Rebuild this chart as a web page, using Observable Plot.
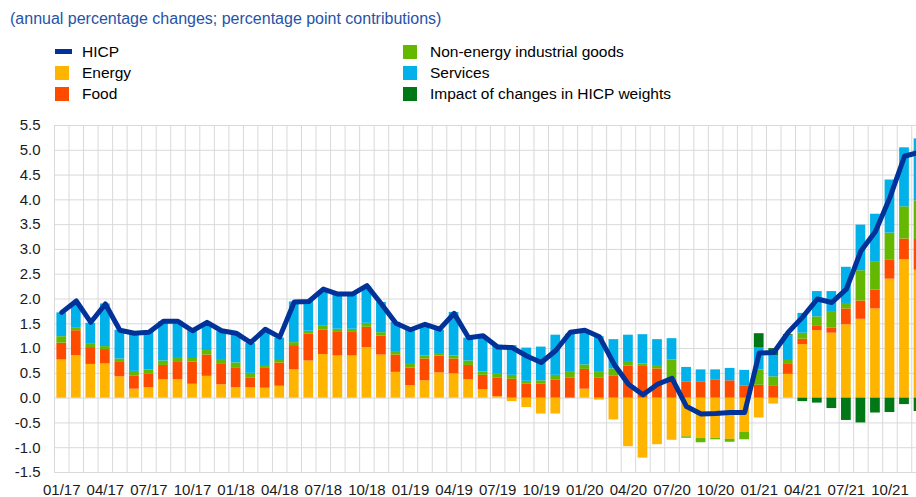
<!DOCTYPE html>
<html>
<head>
<meta charset="utf-8">
<script src="https://cdn.jsdelivr.net/npm/d3@7"></script>
<script src="https://cdn.jsdelivr.net/npm/@observablehq/plot@0.6"></script>
<style>
html, body { margin: 0; padding: 0; background: #fff; overflow: hidden; }
body { width: 916px; height: 497px; position: relative; font-family: "Liberation Sans", Arial, sans-serif; }
#subtitle { position: absolute; left: 10px; top: 9px; font-size: 16px; line-height: 19px; color: #2553a8; white-space: nowrap; }
.lab { position: absolute; font-size: 15.5px; line-height: 18px; color: #000; white-space: nowrap; }
.sw { position: absolute; }
#chart { position: absolute; left: 0; top: 105px; }
</style>
</head>
<body>
<div id="subtitle">(annual percentage changes; percentage point contributions)</div>
<div id="legend"></div>
<div id="chart"></div>
<script>
// ---- categories / tick labels ----
const months = [
  "01/17","02/17","03/17","04/17","05/17","06/17","07/17","08/17","09/17","10/17","11/17","12/17",
  "01/18","02/18","03/18","04/18","05/18","06/18","07/18","08/18","09/18","10/18","11/18","12/18",
  "01/19","02/19","03/19","04/19","05/19","06/19","07/19","08/19","09/19","10/19","11/19","12/19",
  "01/20","02/20","03/20","04/20","05/20","06/20","07/20","08/20","09/20","10/20","11/20","12/20",
  "01/21","02/21","03/21","04/21","05/21","06/21","07/21","08/21","09/21","10/21","11/21","12/21"
];
const xTickLabels = ["01/17","04/17","07/17","10/17","01/18","04/18","07/18","10/18","01/19","04/19","07/19","10/19",
  "01/20","04/20","07/20","10/20","01/21","04/21","07/21","10/21"];
const yTicks = [-1.5, -1.0, -0.5, 0.0, 0.5, 1.0, 1.5, 2.0, 2.5, 3.0, 3.5, 4.0, 4.5, 5.0, 5.5];

// ---- series values (percentage point contributions) ----
const energy = [
  0.77, 0.86, 0.68, 0.69, 0.43, 0.18, 0.21, 0.37, 0.37, 0.28, 0.44, 0.27,
  0.21, 0.21, 0.20, 0.24, 0.57, 0.75, 0.88, 0.85, 0.85, 1.02, 0.87, 0.52,
  0.25, 0.35, 0.51, 0.49, 0.37, 0.17, 0.03, -0.07, -0.19, -0.32, -0.32, 0.00,
  0.18, -0.04, -0.44, -0.98, -1.21, -0.94, -0.85, -0.78, -0.81, -0.81, -0.83, -0.69,
  -0.40, -0.12, 0.48, 1.08, 1.36, 1.31, 1.48, 1.59, 1.80, 2.40, 2.79, 2.58
];
const food = [
  0.34, 0.50, 0.34, 0.29, 0.29, 0.27, 0.27, 0.29, 0.35, 0.45, 0.43, 0.41,
  0.39, 0.19, 0.40, 0.47, 0.49, 0.54, 0.49, 0.49, 0.49, 0.41, 0.38, 0.35,
  0.36, 0.44, 0.34, 0.30, 0.29, 0.29, 0.37, 0.38, 0.28, 0.28, 0.36, 0.40,
  0.40, 0.40, 0.45, 0.65, 0.64, 0.59, 0.38, 0.32, 0.33, 0.37, 0.35, 0.24,
  0.26, 0.25, 0.20, 0.11, 0.10, 0.10, 0.32, 0.37, 0.38, 0.38, 0.42, 0.62
];
const neig = [
  0.13, 0.05, 0.08, 0.06, 0.07, 0.09, 0.09, 0.09, 0.10, 0.07, 0.09, 0.10,
  0.11, 0.10, 0.04, 0.05, 0.06, 0.06, 0.08, 0.05, 0.05, 0.08, 0.07, 0.07,
  0.07, 0.06, 0.05, 0.06, 0.09, 0.07, 0.08, 0.08, 0.06, 0.07, 0.10, 0.12,
  0.09, 0.12, 0.14, 0.09, 0.05, 0.05, 0.39, -0.03, -0.09, -0.03, -0.06, -0.15,
  0.31, 0.18, 0.08, 0.12, 0.18, 0.32, 0.11, 0.61, 0.56, 0.55, 0.65, 0.78
];
const services = [
  0.48, 0.49, 0.41, 0.86, 0.58, 0.79, 0.77, 0.79, 0.73, 0.56, 0.53, 0.56,
  0.60, 0.60, 0.71, 0.45, 0.82, 0.60, 0.70, 0.70, 0.71, 0.74, 0.61, 0.59,
  0.70, 0.61, 0.47, 0.88, 0.46, 0.69, 0.59, 0.60, 0.67, 0.68, 0.81, 0.77,
  0.70, 0.72, 0.59, 0.53, 0.59, 0.54, 0.43, 0.30, 0.24, 0.20, 0.25, 0.32,
  0.44, 0.42, 0.50, 0.40, 0.51, 0.42, 0.73, 0.92, 0.97, 1.07, 1.19, 1.25
];
const weights = [
  0, 0, 0, 0, 0, 0, 0, 0, 0, 0, 0, 0,
  0, 0, 0, 0, 0, 0, 0, 0, 0, 0, 0, 0,
  0, 0, 0, 0, 0, 0, 0, 0, 0, 0, 0, 0,
  0, 0, 0, 0, 0, 0, 0, 0, 0, 0, 0, 0,
  0.29, 0.15, 0.02, -0.07, -0.10, -0.21, -0.45, -0.50, -0.30, -0.29, -0.13, -0.27
];
const hicp = [
  1.73, 1.96, 1.53, 1.90, 1.37, 1.31, 1.33, 1.55, 1.55, 1.36, 1.53, 1.36,
  1.31, 1.12, 1.39, 1.23, 1.94, 1.95, 2.20, 2.10, 2.10, 2.27, 1.90, 1.51,
  1.38, 1.49, 1.39, 1.71, 1.22, 1.26, 1.03, 1.02, 0.85, 0.72, 0.96, 1.33,
  1.37, 1.24, 0.69, 0.28, 0.07, 0.28, 0.40, -0.17, -0.32, -0.31, -0.29, -0.29,
  0.91, 0.92, 1.33, 1.64, 2.00, 1.93, 2.20, 2.97, 3.36, 4.05, 4.88, 4.96
];

const seriesNames = ["Energy", "Food", "Non-energy industrial goods", "Services", "Impact of changes in HICP weights"];
const seriesValues = [energy, food, neig, services, weights];
const seriesColors = ["#FFB400", "#FF4B00", "#65B800", "#00B1EA", "#007816"];
const hicpName = "HICP";
const hicpColor = "#003299";

// ---- legend (HTML, above the SVG) ----
const legendItems = [
  {name: hicpName, color: hicpColor, line: true},
  {name: seriesNames[0], color: seriesColors[0]},
  {name: seriesNames[1], color: seriesColors[1]},
  {name: seriesNames[2], color: seriesColors[2]},
  {name: seriesNames[3], color: seriesColors[3]},
  {name: seriesNames[4], color: seriesColors[4]}
];
const legend = document.getElementById("legend");
legendItems.forEach((it, k) => {
  const col = Math.floor(k / 3), row = k % 3;
  const cy = 52 + row * 21;
  const sx = col === 0 ? 55 : 403;
  const tx = col === 0 ? 82 : 430;
  const sw = document.createElement("div");
  sw.className = "sw";
  sw.style.background = it.color;
  if (it.line) {
    sw.style.left = sx + "px"; sw.style.width = "17px";
    sw.style.top = (cy - 3) + "px"; sw.style.height = "5px";
  } else {
    sw.style.left = sx + "px"; sw.style.width = "14px";
    sw.style.top = (cy - 7) + "px"; sw.style.height = "14px";
  }
  legend.appendChild(sw);
  const lab = document.createElement("div");
  lab.className = "lab";
  lab.textContent = it.name;
  lab.style.left = tx + "px";
  lab.style.top = (cy - 9) + "px";
  legend.appendChild(lab);
});

// ---- data tables for Plot ----
const bars = [];
seriesNames.forEach((s, k) => {
  months.forEach((m, i) => {
    bars.push({series: s, x1: i, x2: i + 1, value: seriesValues[k][i]});
  });
});
const line = months.map((m, i) => ({xm: i + 0.5, v: hicp[i]}));
const boundaries = d3.range(months.length + 1);
const xTickPos = xTickLabels.map(l => months.indexOf(l) + 0.5);

const step = 14.53;
const left = 54;

const chart = Plot.plot({
  width: 916,
  height: 392,
  marginLeft: left,
  marginRight: 0,
  marginTop: 20,
  marginBottom: 25,
  style: {fontSize: "15px", fontFamily: '"Liberation Sans", Arial, sans-serif', color: "#1a1a1a", background: "white", overflow: "hidden"},
  x: {
    domain: [0, months.length],
    range: [left, left + step * months.length],
    ticks: xTickPos,
    tickFormat: d => months[Math.floor(d)],
    tickSize: 0,
    tickPadding: 12,
    label: null
  },
  y: {
    domain: [yTicks[0], yTicks[yTicks.length - 1]],
    ticks: yTicks,
    tickFormat: d => d.toFixed(1),
    tickSize: 0,
    tickPadding: 14,
    label: null
  },
  color: {domain: seriesNames, range: seriesColors},
  marks: [
    Plot.ruleY(yTicks, {stroke: "#d9d9d9", strokeWidth: 1}),
    Plot.ruleX(boundaries, {stroke: "#d9d9d9", strokeWidth: 1}),
    Plot.rectY(bars, {x1: "x1", x2: "x2", y: "value", fill: "series", insetLeft: 2.4, insetRight: 2.4}),
    Plot.line(line, {x: "xm", y: "v", stroke: hicpColor, strokeWidth: 5, strokeLinejoin: "round"})
  ]
});
document.getElementById("chart").appendChild(chart);
</script>
</body>
</html>
